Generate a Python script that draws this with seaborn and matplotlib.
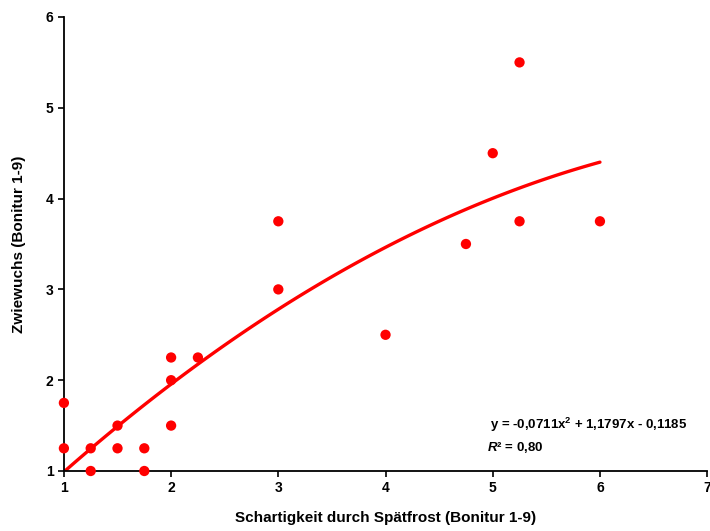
import numpy as np
import pandas as pd
import matplotlib
matplotlib.use("Agg")
import matplotlib.pyplot as plt
import seaborn as sns

x_vals = [1, 1, 1.25, 1.25, 1.5, 1.5, 1.75, 1.75, 2, 2, 2, 2.25, 3, 3, 4, 4.75, 5, 5.25, 5.25, 6]
y_vals = [1.75, 1.25, 1.25, 1.0, 1.5, 1.25, 1.25, 1.0, 2.25, 2.0, 1.5, 2.25, 3.75, 3.0, 2.5, 3.5, 4.5, 5.5, 3.75, 3.75]
x_ticks = [1, 2, 3, 4, 5, 6, 7]
y_ticks = [1, 2, 3, 4, 5, 6]
eq_text = "y = -0,0711x$^2$ + 1,1797x - 0,1185"
r2_text = "$\\mathit{R}$² = 0,80"

df = pd.DataFrame({"x": x_vals, "y": y_vals})

sns.set_style("ticks")
plt.rcParams["font.family"] = ["Liberation Sans", "DejaVu Sans"]
plt.rcParams["mathtext.fontset"] = "custom"
plt.rcParams["mathtext.rm"] = "Liberation Sans:bold"
plt.rcParams["mathtext.it"] = "Liberation Sans:bold:italic"
plt.rcParams["text.color"] = "black"
plt.rcParams["axes.labelcolor"] = "black"
plt.rcParams["xtick.color"] = "black"
plt.rcParams["ytick.color"] = "black"

fig = plt.figure(figsize=(7.10, 5.31), dpi=100)
ax = fig.add_axes([0.090, 0.113, 0.906, 0.855])

sns.regplot(data=df, x="x", y="y", order=2, ci=None, ax=ax, scatter=False,
            line_kws=dict(color="#ff0000", lw=2.4))
sns.scatterplot(data=df, x="x", y="y", ax=ax, color="#ff0000", s=55,
                edgecolor="none", zorder=3, clip_on=False)

ax.set_xlim(1, 7)
ax.set_ylim(1, 6)
ax.set_xticks(x_ticks)
ax.set_yticks(y_ticks)
ax.set_xticklabels([str(t) for t in x_ticks], fontweight="bold", fontsize=10)
ax.set_yticklabels([str(t) for t in y_ticks], fontweight="bold", fontsize=10)
ax.tick_params(direction="out", length=4, width=1.2, colors="black")
for s in ["top", "right"]:
    ax.spines[s].set_visible(False)
for s in ["left", "bottom"]:
    ax.spines[s].set_linewidth(1.3)
    ax.spines[s].set_color("black")

ax.set_xlabel("Schartigkeit durch Spätfrost (Bonitur 1-9)", fontweight="bold", fontsize=11, labelpad=11)
ax.set_ylabel("Zwiewuchs (Bonitur 1-9)", fontweight="bold", fontsize=11, labelpad=14)

ax.text(4.97, 1.51, eq_text, fontsize=9.5, fontweight="bold", va="center", ha="left", color="black")
ax.text(4.95, 1.26, r2_text, fontsize=9.5, fontweight="bold", va="center", ha="left", color="black")

fig.savefig("out.png", dpi=100)
